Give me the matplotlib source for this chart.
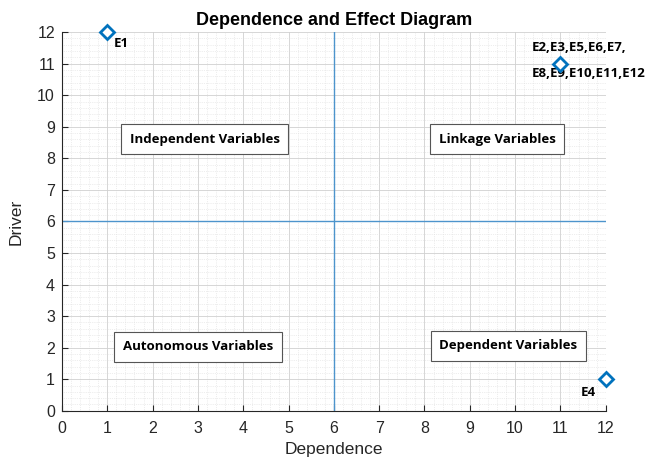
import matplotlib
matplotlib.use("Agg")
import matplotlib.pyplot as plt
from matplotlib.ticker import MultipleLocator

# data
dependence = [1, 11, 12]
driver = [12, 11, 1]
point_labels = ["E1", "E2,E3,E5,E6,E7,\nE8,E9,E10,E11,E12", "E4"]
quadrants = ["Independent Variables", "Linkage Variables",
             "Autonomous Variables", "Dependent Variables"]
quad_x = [3.15, 9.6, 3.0, 9.85]
quad_y = [8.6, 8.6, 2.03, 2.06]

plt.rcParams['font.family'] = ['Liberation Sans', 'DejaVu Sans']

fig = plt.figure(figsize=(6.52, 4.59), dpi=100)
ax = fig.add_axes([0.095, 0.105, 0.834, 0.825])

blue = '#0072BD'
ax.axvline(6, color='#4d94cc', lw=1.0, zorder=2)
ax.axhline(6, color='#4d94cc', lw=1.0, zorder=2)
ax.plot(dependence, driver, linestyle='none', marker='D', markersize=7,
        markerfacecolor='white', markeredgecolor=blue, markeredgewidth=2,
        clip_on=False, zorder=5)

lab_font = dict(family=['Open Sans', 'DejaVu Sans'], fontweight='bold',
                fontsize=9.5, clip_on=False)
ax.text(1.15, 11.65, point_labels[0], ha='left', va='center', **lab_font)
top_line, bottom_line = point_labels[1].split('\n')
ax.text(10.37, 11.52, top_line, ha='left', va='center', **lab_font)
ax.text(10.37, 10.70, bottom_line, ha='left', va='center', **lab_font)
ax.text(11.62, 0.57, point_labels[2], ha='center', va='center', **lab_font)

for t, x, y in zip(quadrants, quad_x, quad_y):
    ax.text(x, y, t, ha='center', va='center', fontsize=9.5, fontweight='bold',
            family=['Open Sans', 'DejaVu Sans'],
            bbox=dict(boxstyle='square,pad=0.65', fc='white', ec='#555555', lw=0.8))

ax.set_xlim(0, 12)
ax.set_ylim(0, 12)
ax.xaxis.set_major_locator(MultipleLocator(1))
ax.yaxis.set_major_locator(MultipleLocator(1))
ax.xaxis.set_minor_locator(MultipleLocator(0.2))
ax.yaxis.set_minor_locator(MultipleLocator(0.2))
ax.grid(True, which='major', color='#d0d0d0', lw=0.6)
ax.grid(True, which='minor', color='#dedede', lw=0.5, linestyle=':')
ax.set_axisbelow(True)

for s in ['top', 'right']:
    ax.spines[s].set_visible(False)
for s in ['left', 'bottom']:
    ax.spines[s].set_color('#262626')
    ax.spines[s].set_linewidth(0.8)
ax.tick_params(which='major', direction='in', length=4, labelsize=11.5,
               colors='#262626', width=0.8)
ax.tick_params(axis='x', which='major', pad=7.5)
ax.tick_params(axis='y', which='major', pad=5)
ax.tick_params(which='minor', length=0)

ax.set_xlabel('Dependence', fontsize=12.5, color='#262626', labelpad=4)
ax.set_ylabel('Driver', fontsize=12.5, color='#262626', labelpad=10)
ax.set_title('Dependence and Effect Diagram', fontsize=13, fontweight='bold', pad=5)

fig.savefig('out.png', dpi=100)
